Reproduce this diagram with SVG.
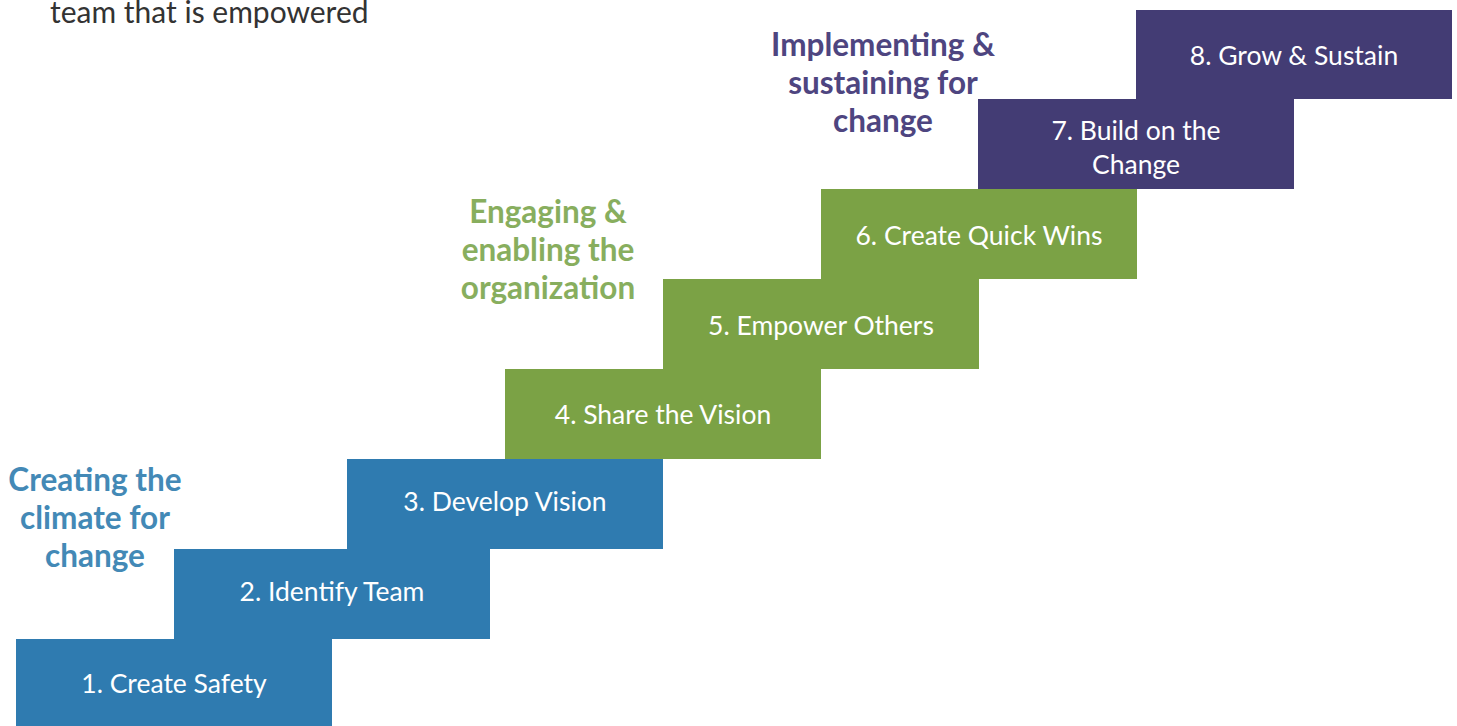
<svg xmlns="http://www.w3.org/2000/svg" width="1457" height="726" viewBox="0 0 1457 726">
<style>
.blue{fill:#2F7BB0}
.green{fill:#7BA245}
.purple{fill:#433C74}
.st{font-family:Lato,"Open Sans",sans-serif;font-size:26.5px;fill:#ffffff;text-anchor:middle}
.lb{font-family:Lato,"Open Sans",sans-serif;font-size:31.5px;font-weight:bold;text-anchor:middle}
</style>
<rect width="1457" height="726" fill="#ffffff"/>
<text x="50" y="23" font-family="Lato,'Open Sans',sans-serif" font-size="30" fill="#333333">team that is empowered</text>
<g id="label-climate" fill="#4389B6">
<text class="lb" x="95" y="491">Creating the</text>
<text class="lb" x="95" y="529">climate for</text>
<text class="lb" x="95" y="567">change</text>
</g>
<g id="label-engaging" fill="#88AE5E">
<text class="lb" x="548" y="223">Engaging &amp;</text>
<text class="lb" x="548" y="261">enabling the</text>
<text class="lb" x="548" y="299">organization</text>
</g>
<g id="label-implementing" fill="#4E4580">
<text class="lb" x="883" y="56">Implementing &amp;</text>
<text class="lb" x="883" y="94">sustaining for</text>
<text class="lb" x="883" y="132">change</text>
</g>
<g id="step1"><rect class="blue" x="16" y="639" width="316" height="87"/><text class="st" x="174" y="693">1. Create Safety</text></g>
<g id="step2"><rect class="blue" x="174" y="549" width="316" height="90"/><text class="st" x="332" y="601">2. Identify Team</text></g>
<g id="step3"><rect class="blue" x="347" y="459" width="316" height="90"/><text class="st" x="505" y="511">3. Develop Vision</text></g>
<g id="step4"><rect class="green" x="505" y="369" width="316" height="90"/><text class="st" x="663" y="424">4. Share the Vision</text></g>
<g id="step5"><rect class="green" x="663" y="279" width="316" height="90"/><text class="st" x="821" y="335">5. Empower Others</text></g>
<g id="step6"><rect class="green" x="821" y="189" width="316" height="90"/><text class="st" x="979" y="245">6. Create Quick Wins</text></g>
<g id="step7"><rect class="purple" x="978" y="99" width="316" height="90"/><text class="st" x="1136" y="140">7. Build on the</text><text class="st" x="1136" y="174">Change</text></g>
<g id="step8"><rect class="purple" x="1136" y="10" width="316" height="89"/><text class="st" x="1294" y="65">8. Grow &amp; Sustain</text></g>
<g id="connectors"></g>
</svg>
